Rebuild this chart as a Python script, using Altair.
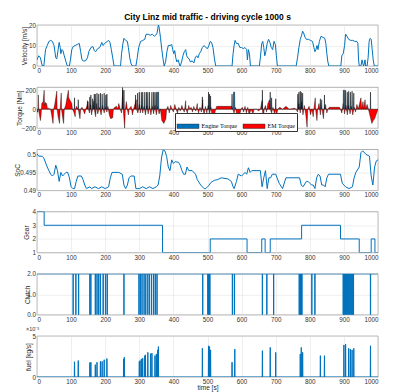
import altair as alt
import pandas as pd

TITLE = "City Linz mid traffic - driving cycle 1000 s"
X_TICKS = list(range(0, 1001, 100))
BLUE = "#0072BD"
RED = "#FF0000"
FONT = "Liberation Sans"
SERIF = "Liberation Serif"

# velocity [m/s]  (time, value)
VELOCITY = [(0,3),(5,5),(10,4),(14,1),(16,0),(20,0),(25,8),(30,10),(35,12),(40,12.5),(45,12),(50,10),(55,4),
    (58,3.5),(62,8),(65,11.5),(68,9),(70,6),(73,8),(76,7.5),(80,5),(85,2),(89,0),(95,0),(98,3),(102,8),(106,9.5),
    (112,10),(118,10.5),(124,11),(128,7),(132,3),(136,2.5),(142,2.5),(148,4),(152,7),(158,9),(164,9.5),(168,7.5),
    (172,7),(178,8.5),(184,9),(190,11.5),(194,10),(198,11),(202,11.5),(206,12),(210,12.5),(214,11.5),(218,8),
    (222,4),(226,0),(245,0),(248,6),(252,11),(255,13.5),(260,12.5),(265,12),(268,9),(272,4),(276,1),(280,0),
    (290,0),(294,4),(298,9),(304,12),(310,12.5),(316,13),(320,15.5),(326,15.5),(332,15),(338,15.5),(344,14.5),
    (348,15),(352,16),(356,20),(358,19),(362,14),(366,8),(370,3),(373,0),(377,2),(381,7),(385,10),(390,10),
    (395,10.5),(398,8),(401,6),(404,7.5),(407,4),(410,2),(414,3),(418,0.5),(420,0),(424,2),(428,5),(432,7),
    (436,8),(439,5),(442,4),(446,3.5),(450,2),(455,2.5),(460,1.5),(464,4),(468,5),(472,4),(476,6),(480,7),
    (485,9),(490,10),(495,9),(500,8.5),(504,10),(508,12),(512,11.5),(516,9),(520,4),(524,0),(572,0),(575,6),
    (578,10),(581,12.5),(585,11),(590,11),(595,9),(600,9),(605,8.5),(610,9),(615,8),(617,3),(620,8),(623,6),
    (626,0),(652,0),(655,4),(659,11),(662,12),(665,9),(668,5),(671,7),(675,11),(679,13),(683,11.5),(687,9),
    (691,8),(695,12),(699,10.5),(702,5),(705,0),(760,0),(764,4),(768,9),(772,13),(776,15),(779,17),(782,16),
    (786,14),(790,13),(796,13),(802,12.5),(808,12),(812,9),(815,7),(818,8),(821,10),(824,8),(828,12),(833,14.5),
    (838,14),(844,13.5),(847,11),(850,6),(853,2),(856,0),(891,0),(894,5),(898,6),(902,10),(905,15.5),(909,14.5),
    (914,13),(920,12.5),(926,12.5),(932,12),(938,12),(941,11),(943,3),(945,0),(950,0),(953,3),(956,1),(958,0),
    (962,3),(964,0),(968,0),(971,4),(974,12),(977,13.5),(980,13),(983,8),(986,3),(989,0),(1000,0)]

# state of charge (time, value)
SOC = [(0,0.5002),(5,0.4995),(15,0.4995),(20,0.499),(30,0.4965),(40,0.4945),(45,0.494),(50,0.4945),(55,0.497),
    (60,0.4955),(65,0.4925),(70,0.495),(75,0.494),(80,0.4945),(85,0.495),(90,0.495),(95,0.4935),(100,0.491),
    (105,0.4905),(110,0.4905),(115,0.4925),(120,0.494),(130,0.494),(135,0.493),(140,0.4915),(145,0.4905),
    (155,0.491),(160,0.4905),(170,0.491),(180,0.4905),(190,0.491),(200,0.4905),(210,0.491),(215,0.4935),
    (220,0.495),(240,0.495),(250,0.4945),(255,0.4915),(260,0.4905),(265,0.4915),(270,0.4935),(275,0.494),
    (285,0.494),(290,0.4905),(300,0.4905),(310,0.491),(320,0.4905),(330,0.491),(340,0.4905),(350,0.491),
    (355,0.4915),(360,0.494),(365,0.499),(370,0.5013),(375,0.501),(380,0.4995),(385,0.4965),(390,0.4955),
    (395,0.4985),(400,0.4975),(405,0.498),(415,0.4978),(420,0.497),(425,0.4955),(430,0.4945),(435,0.4945),
    (440,0.4965),(445,0.4955),(455,0.4955),(465,0.4945),(470,0.493),(480,0.4915),(490,0.4905),(495,0.4905),
    (500,0.491),(505,0.4915),(510,0.4922),(520,0.4928),(530,0.493),(540,0.4935),(560,0.4932),(570,0.4925),
    (575,0.491),(578,0.4905),(585,0.4925),(590,0.4945),(600,0.494),(610,0.495),(615,0.4945),(620,0.4963),
    (625,0.495),(630,0.4955),(655,0.4955),(660,0.491),(665,0.4935),(670,0.4955),(675,0.4905),(680,0.4935),
    (685,0.4935),(690,0.4945),(700,0.4945),(710,0.492),(720,0.4905),(730,0.4935),(770,0.4935),(775,0.4915),
    (780,0.491),(790,0.4925),(795,0.4925),(800,0.492),(805,0.4915),(810,0.4915),(815,0.4905),(820,0.4935),
    (825,0.4945),(830,0.494),(835,0.4915),(840,0.4915),(845,0.491),(850,0.4935),(855,0.4945),(890,0.4945),
    (895,0.492),(900,0.4915),(905,0.491),(915,0.4905),(925,0.491),(930,0.4935),(935,0.495),(945,0.4965),
    (950,0.5005),(955,0.501),(965,0.5),(975,0.4995),(980,0.494),(985,0.4915),(990,0.4965),(995,0.4982),
    (1000,0.4985)]

# gear (step changes)
GEAR_T = [0, 21, 368, 508, 616, 659, 669, 684, 776, 890, 945, 980, 991, 1000]
GEAR_V = [4, 3, 1, 2, 1, 2, 1, 2, 3, 2, 1, 2, 1, 1]

# electric machine torque [Nm] (time, value)
EM_TORQUE = [(0,-30),(3,-30),(4,150),(5,0),(6,-40),(10,-120),(12,-60),(14,60),(18,80),(21,200),(22,40),(24,70),
    (28,60),(31,0),(34,10),(40,0),(43,-60),(47,-150),(49,0),(52,50),(58,190),(59,0),(62,-80),(66,-150),(68,0),
    (71,170),(72,0),(74,-60),(78,-150),(80,0),(84,40),(92,200),(93,120),(102,60),(104,0),(108,-30),(112,-80),
    (113,0),(116,30),(122,-20),(126,-100),(128,0),(132,20),(140,-50),(143,0),(146,30),(150,80),(151,0),(154,-40),
    (157,50),(160,-60),(164,20),(167,90),(168,0),(172,-80),(175,60),(178,-50),(183,20),(188,-60),(192,40),
    (197,-40),(200,20),(205,-30),(208,30),(212,-60),(216,-100),(222,-90),(224,0),(228,20),(233,30),(236,0),
    (240,60),(244,0),(248,-40),(250,100),(252,200),(253,0),(257,-200),(259,0),(262,80),(265,0),(268,-60),
    (270,0),(276,30),(280,-60),(283,0),(288,60),(291,100),(292,0),(296,-40),(300,50),(303,-40),(306,40),
    (310,-40),(314,30),(318,-60),(322,40),(326,-50),(330,30),(334,-60),(338,30),(342,-50),(346,40),(350,-60),
    (354,30),(358,-50),(362,0),(366,-120),(372,-150),(378,-100),(380,0),(384,30),(388,-40),(392,40),(396,0),
    (400,-30),(404,50),(408,0),(412,-40),(416,20),(420,-20),(425,40),(428,0),(432,-30),(436,90),(437,0),
    (441,-40),(445,40),(448,0),(452,20),(456,-30),(460,30),(462,0),(466,-20),(470,60),(471,0),(474,-40),
    (478,20),(482,-30),(486,100),(487,0),(490,-60),(494,30),(498,-40),(502,40),(506,-50),(510,20),(514,-80),
    (520,-60),(524,0),(527,30),(571,30),(574,0),(578,-40),(582,20),(586,-60),(594,-70),(598,0),(602,20),
    (606,-30),(610,30),(614,-40),(618,20),(622,-60),(628,0),(633,-50),(637,0),(645,0),(650,-20),(655,0),
    (660,90),(661,0),(664,-150),(666,0),(670,40),(673,-30),(677,60),(682,100),(684,0),(688,-40),(692,20),
    (697,-60),(699,0),(703,-60),(706,0),(712,20),(720,0),(730,30),(740,0),(755,10),(760,0),(764,-30),(768,60),
    (772,-40),(776,80),(780,-60),(784,40),(788,-50),(792,-190),(794,0),(798,30),(802,-60),(806,0),(810,-80),
    (812,0),(816,120),(817,0),(821,-120),(823,0),(827,60),(831,-60),(835,100),(836,0),(840,-100),(842,0),
    (846,50),(850,-40),(853,0),(857,20),(887,20),(890,0),(894,-40),(898,60),(902,-50),(906,40),(910,-60),
    (914,40),(918,-50),(922,30),(926,-60),(930,20),(934,-30),(938,50),(942,0),(946,60),(950,120),(952,0),
    (956,80),(958,0),(962,100),(964,0),(968,50),(972,0),(976,-60),(982,-150),(986,-120),(990,-100),(994,-60),
    (998,-20),(1000,0)]

# engine torque spikes [Nm] (time, peak)
ENGINE_TORQUE = [(110,120),(121,100),(148,90),(155,130),(158,150),(163,110),(168,160),(171,160),(176,170),
    (181,160),(186,170),(191,160),(197,170),(202,150),(205,160),(251,230),(255,200),(289,150),(295,170),
    (300,180),(306,180),(310,180),(316,180),(321,180),(325,180),(330,180),(337,180),(342,180),(346,180),
    (350,180),(355,180),(485,130),(503,180),(506,160),(509,140),(572,160),(578,180),(661,200),(684,180),
    (688,120),(700,110),(765,160),(768,180),(772,190),(775,180),(779,170),(831,110),(843,150),(900,200),
    (905,200),(910,180),(914,190),(919,180),(924,190),(929,170),(978,180)]
WIDE_ENGINE = {355: 2.0, 578: 2.0, 900: 2.0}

# clutch opening instants [s]
CLUTCH_DROPS = [106,114,122,155,158,171,176,181,186,194,201,206,255,299,303,308,314,319,325,330,336,342,347,
    352,486,501,503,505,507,573,579,661,674,694,769,771,773,775,777,806,815,898,900,902,905,908,910,914,917,
    920,923,926,928,978]

# fuel flow spikes (time, value x1e-3 kg/s)
FUEL = [(110,1.86),(121,2.0),(155,1.75),(158,1.8),(171,1.5),(176,1.8),(186,1.9),(191,1.9),(197,2.1),(205,2.25),
    (254,2.2),(256,2.4),(300,1.9),(302,2.0),(306,2.2),(310,2.3),(316,2.6),(318,2.7),(325,3.0),(333,2.85),
    (337,2.9),(346,2.6),(350,2.8),(354,3.3),(356,3.7),(485,3.5),(503,3.8),(506,3.7),(509,3.3),(572,1.8),
    (580,3.4),(661,3.2),(684,3.6),(700,3.0),(772,2.8),(775,3.6),(779,3.0),(831,2.6),(843,2.6),(900,3.9),
    (905,4.0),(914,3.5),(919,3.4),(924,3.3),(929,3.5),(978,3.8)]

# ---------- build tables ----------
vel_df = pd.DataFrame(VELOCITY, columns=["t", "v"])
soc_df = pd.DataFrame(SOC, columns=["t", "v"])
gear_df = pd.DataFrame({"t": GEAR_T, "v": GEAR_V})
em_df = pd.DataFrame(EM_TORQUE, columns=["t", "v"])
em_df["series"] = "EM Torque"

eng_rows = [(0, 0)]
for t, h in ENGINE_TORQUE:
    hw = WIDE_ENGINE.get(t, 0.7)
    if hw > 1:
        eng_rows += [(t - hw, 0), (t - hw + 0.5, h), (t + hw - 0.5, h), (t + hw, 0)]
    else:
        eng_rows += [(t - hw, 0), (t, h), (t + hw, 0)]
eng_rows.append((1000, 0))
eng_df = pd.DataFrame(eng_rows, columns=["t", "v"])
eng_df["series"] = "Engine Torque"

cl_rows = [(0, 2)]
for t in CLUTCH_DROPS:
    cl_rows += [(t - 0.4, 2), (t - 0.4, 0), (t + 0.4, 0), (t + 0.4, 2)]
cl_rows.append((1000, 2))
cl_df = pd.DataFrame(cl_rows, columns=["t", "v"])
cl_df["i"] = range(len(cl_df))

fu_rows = [(0, 0)]
for t, h in FUEL:
    fu_rows += [(t - 0.6, 0), (t - 0.2, h / 1000), (t + 0.2, h / 1000), (t + 0.6, 0)]
fu_rows.append((1000, 0))
fu_df = pd.DataFrame(fu_rows, columns=["t", "v"])
fu_df["i"] = range(len(fu_df))

W, H = 341, 41


def xenc(title=None):
    return alt.X("t:Q", scale=alt.Scale(domain=[0, 1000], nice=False, zero=False),
                 axis=alt.Axis(values=X_TICKS, format="d", title=title, labelPadding=1.5, titlePadding=0))


def yenc(domain, values, title, tpad, expr=None, fmt=None):
    kw = dict(values=values, title=title, titlePadding=tpad, minExtent=0, maxExtent=0, labelPadding=1.5)
    if expr:
        kw["labelExpr"] = expr
    if fmt:
        kw["format"] = fmt
    return alt.Y("v:Q", scale=alt.Scale(domain=domain, nice=False, zero=False),
                 axis=alt.Axis(**kw), stack=None)


line_kw = dict(color=BLUE, strokeWidth=1, clip=True)

p1 = alt.Chart(vel_df).mark_line(**line_kw).encode(
    x=xenc(), y=yenc([0, 20], [0, 10, 20], "Velocity [m/s]", 10)
).properties(width=W, height=H, title=alt.TitleParams(
    TITLE, fontSize=8.5, fontWeight="bold", anchor="middle", offset=1, font=FONT, color="black"))

color_scale = alt.Scale(domain=["Engine Torque", "EM Torque"], range=[BLUE, RED])
legend = alt.Legend(orient="none", legendX=138, legendY=88, direction="horizontal", title=None,
                    symbolType="M-1,-0.2H1V0.2H-1Z", symbolSize=480, labelFont=SERIF, labelFontSize=6,
                    labelColor="black", strokeColor="#333333", fillColor="white", padding=1.5,
                    columnPadding=4, symbolStrokeColor="black", symbolStrokeWidth=0.4, labelOffset=2,
                    symbolOpacity=1)
ty = yenc([-200, 232], [-200, 0, 200], "Torque [Nm]", 15)
em_area = alt.Chart(em_df).mark_area(clip=True, opacity=1).encode(
    x=xenc(), y=ty, y2=alt.datum(0), color=alt.Color("series:N", scale=color_scale, legend=legend))
em_line = alt.Chart(em_df).mark_line(color="black", strokeWidth=0.4, clip=True).encode(x=xenc(), y=ty)
eng_area = alt.Chart(eng_df).mark_area(clip=True, opacity=1).encode(
    x=xenc(), y=ty, y2=alt.datum(0), color=alt.Color("series:N", scale=color_scale, legend=legend))
eng_line = alt.Chart(eng_df).mark_line(color="black", strokeWidth=0.5, clip=True).encode(x=xenc(), y=ty)
p2 = alt.layer(em_area, em_line, eng_area, eng_line).properties(width=W, height=H)

p3 = alt.Chart(soc_df).mark_line(**line_kw).encode(
    x=xenc(), y=yenc([0.49, 0.5014], [0.49, 0.495, 0.5], "SoC", 17, fmt="~g")
).properties(width=W, height=H)

p4 = alt.Chart(gear_df).mark_line(interpolate="step-after", **line_kw).encode(
    x=xenc(), y=yenc([1, 4], [1, 2, 3, 4], "Gear", 8)
).properties(width=W, height=H)

p5 = alt.Chart(cl_df).mark_line(**line_kw).encode(
    x=xenc(), y=yenc([0, 2], [0, 1, 2], "Clutch", 6.5), order="i:Q"
).properties(width=W, height=H)

p6 = alt.Chart(fu_df).mark_line(**line_kw).encode(
    x=xenc("time [s]"), y=yenc([0, 0.005], [0, 0.005], "fuel [kg/s]", 6, expr="format(datum.value*1000, 'd')"),
    order="i:Q"
).properties(width=W, height=H, title=alt.TitleParams(
    "×10⁻³", fontSize=5.5, fontWeight="normal", anchor="start", offset=1, dx=1, font=FONT, color="#333333"))

chart = alt.vconcat(p1, p2, p3, p4, p5, p6, spacing=21.2, bounds="flush").properties(
    padding={"left": 5, "top": 4, "right": 5, "bottom": 0}, background="white"
).configure_view(stroke="#7a7a7a", strokeWidth=0.6).configure_axis(
    labelFont=FONT, labelFontSize=6.3, labelColor="#333333", titleFont=FONT, titleFontSize=6.5,
    titleFontWeight="normal", titleColor="#262626", ticks=False, domain=False, grid=True,
    gridColor="#dedede", gridWidth=0.5
)

chart.save("out.html", embed_options={"renderer": "svg", "actions": False})
